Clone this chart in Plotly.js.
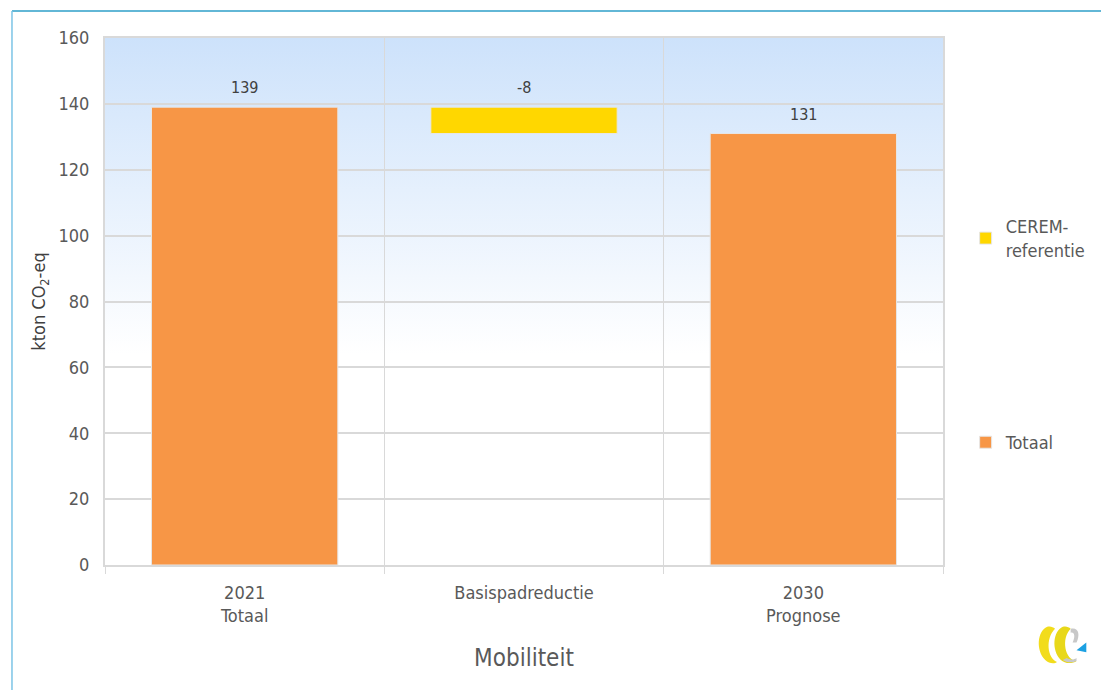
<!DOCTYPE html>
<html>
<head>
<meta charset="utf-8">
<script src="https://cdn.plot.ly/plotly-3.0.1.min.js"></script>
<style>html,body{margin:0;padding:0;background:#fff;}#chart{width:1101px;height:690px;}</style>
</head>
<body>
<div id="chart"></div>
<script>
// Data
var categories = ["2021<br>Totaal", "Basispadreductie", "2030<br>Prognose"];
var totaalCats = ["2021<br>Totaal", "2030<br>Prognose"];
var totaalValues = [139, 131];
var totaalLabels = ["139", "131"];
var ceremCats = ["Basispadreductie"];
var ceremValues = [-8];
var ceremBase = [139];
var ceremLabels = ["-8"];
var yTicks = [0, 20, 40, 60, 80, 100, 120, 140, 160];

var font = "'DejaVu Sans Condensed', 'DejaVu Sans', sans-serif";

var gradSvg = '<svg xmlns="http://www.w3.org/2000/svg" width="100" height="100" preserveAspectRatio="none">' +
  '<defs><linearGradient id="g" x1="0" y1="0" x2="0" y2="1">' +
  '<stop offset="0" stop-color="#cde2fb"/><stop offset="0.6" stop-color="#ffffff"/><stop offset="1" stop-color="#ffffff"/>' +
  '</linearGradient></defs><rect width="100" height="100" fill="url(#g)"/></svg>';

var logoSvg = '<svg xmlns="http://www.w3.org/2000/svg" width="60" height="50" viewBox="0 0 60 50">' +
  '<path d="M14 6 C4 10 2 30 12 40 C16 44 22 44 24 42 C14 38 12 18 22 8 C20 6 17 5 14 6 Z" fill="#f2dc1c"/>' +
  '<path d="M30 6 C20 10 18 30 28 40 C32 44 40 44 44 41 C32 40 28 18 38 8 C36 6 33 5 30 6 Z" fill="#e8d81a"/>' +
  '<path d="M38 8 C46 6 48 14 44 22 L40 22 C43 16 42 11 38 12 Z" fill="#c8c8c8"/>' +
  '<path d="M44 41 C40 43 34 43 30 40 L34 38 C38 40 41 40 44 38 Z" fill="#c8c8c8"/>' +
  '<path d="M44 30 L54 22 L54 32 Z" fill="#1ba0e2"/>' +
  '</svg>';

function uri(s){ return 'data:image/svg+xml;charset=utf-8,' + encodeURIComponent(s); }

var traces = [
  {
    type: 'bar', name: 'CEREM-<br>referentie', legendgroup: 'c',
    x: ceremCats, y: ceremValues, base: ceremBase,
    marker: {color: '#ffd700', line: {color: '#e6e6e6', width: 1}},
    hoverinfo: 'skip'
  },
  {
    type: 'bar', name: 'Totaal', legendgroup: 't',
    x: totaalCats, y: totaalValues,
    marker: {color: '#f79646', line: {color: '#e6e6e6', width: 1}},
    hoverinfo: 'skip'
  }
];

// value labels above each bar, built from the data arrays
var annotations = [];
totaalCats.forEach(function(c, i){
  annotations.push({x: c, y: totaalValues[i], text: totaalLabels[i], xref: 'x', yref: 'y',
    showarrow: false, yanchor: 'bottom', yshift: 8,
    font: {family: font, size: 16, color: '#404040'}});
});
ceremCats.forEach(function(c, i){
  annotations.push({x: c, y: ceremBase[i], text: ceremLabels[i], xref: 'x', yref: 'y',
    showarrow: false, yanchor: 'bottom', yshift: 8,
    font: {family: font, size: 16, color: '#404040'}});
});

var layout = {
  width: 1101, height: 690,
  margin: {l: 105, r: 158, t: 38, b: 125, autoexpand: false},
  paper_bgcolor: '#ffffff', plot_bgcolor: 'rgba(0,0,0,0)',
  barmode: 'overlay', bargap: 0.333,
  showlegend: true,
  font: {family: font, color: '#595959'},
  annotations: annotations,
  xaxis: {
    type: 'category', categoryorder: 'array', categoryarray: categories,
    tickson: 'boundaries', ticks: 'outside', ticklen: 7, tickcolor: '#d9d9d9',
    ticklabelstandoff: 10,
    showgrid: true, gridcolor: '#d9d9d9', gridwidth: 1,
    showline: true, linecolor: '#d9d9d9', linewidth: 2, mirror: true,
    tickfont: {family: font, size: 18, color: '#595959'},
    title: {text: 'Mobiliteit', font: {family: font, size: 24, color: '#595959'}, standoff: 24},
    fixedrange: true
  },
  yaxis: {
    range: [0, 160], tickvals: yTicks, ticks: '',
    ticklabelstandoff: 10,
    showgrid: true, gridcolor: '#d9d9d9', gridwidth: 2,
    showline: true, linecolor: '#d9d9d9', linewidth: 2, mirror: true,
    zeroline: false,
    tickfont: {family: font, size: 18, color: '#595959'},
    title: {text: 'kton CO<sub>2</sub>-eq', font: {family: font, size: 18, color: '#404040'}, standoff: 8},
    fixedrange: true
  },
  legend: {
    x: 1.027, y: 0.677, xanchor: 'left', yanchor: 'top',
    font: {family: font, size: 18, color: '#595959'},
    tracegroupgap: 166, itemwidth: 30,
    bgcolor: 'rgba(0,0,0,0)'
  },
  images: [
    {source: uri(gradSvg), xref: 'paper', yref: 'paper', x: 0, y: 1, sizex: 1, sizey: 1,
     xanchor: 'left', yanchor: 'top', sizing: 'stretch', layer: 'below'},
    {source: uri(logoSvg), xref: 'paper', yref: 'paper', x: 1.108, y: -0.105, sizex: 0.07, sizey: 0.095,
     xanchor: 'left', yanchor: 'top', sizing: 'contain', layer: 'above'}
  ],
  shapes: [
    {type: 'line', xref: 'paper', yref: 'paper', x0: -0.111, x1: 1.2, y0: 1.0512, y1: 1.0512,
     line: {color: '#2e9fc9', width: 1.5}},
    {type: 'line', xref: 'paper', yref: 'paper', x0: -0.111, x1: -0.111, y0: 1.0512, y1: -0.25,
     line: {color: '#7cc4e6', width: 1.5}}
  ]
};

Plotly.newPlot('chart', traces, layout, {displayModeBar: false, staticPlot: true});
</script>
</body>
</html>
